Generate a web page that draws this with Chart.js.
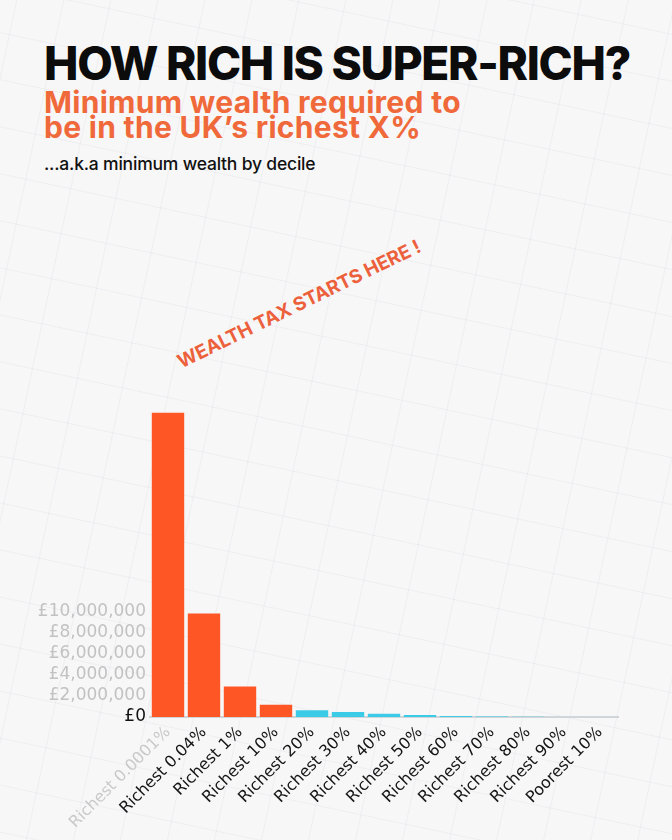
<!DOCTYPE html>
<html>
<head>
<meta charset="utf-8">
<script src="https://cdn.jsdelivr.net/npm/chart.js@4.4.1/dist/chart.umd.min.js"></script>
<style>
  html, body { margin:0; padding:0; }
  body { width:672px; height:840px; position:relative; overflow:hidden; background:#f8f7f8; font-family:Inter, "Noto Sans", sans-serif; }
  #grid { position:absolute; left:-300px; top:-300px; width:1300px; height:1500px; transform:rotate(12deg);
    background-image:
      linear-gradient(rgba(190,198,210,0.18) 1px, transparent 1px),
      linear-gradient(90deg, rgba(190,198,210,0.18) 1px, transparent 1px);
    background-size:46px 46px; }
  #title { position:absolute; left:44px; top:40px; font-size:46px; font-weight:800; letter-spacing:-1.3px; color:#0c0c0c; white-space:nowrap; line-height:1; }
  #sub { position:absolute; left:44px; top:90px; font-size:30px; font-weight:700; letter-spacing:0.3px; color:#f0693a; line-height:25px; white-space:nowrap; }
  #note { position:absolute; left:44px; top:153px; font-size:17.5px; font-weight:500; color:#111; letter-spacing:-0.2px; white-space:nowrap; }
  #tax { position:absolute; left:299px; top:304px; transform:translate(-50%,-50%) rotate(-26deg); font-size:19px; font-weight:700; color:#ec603c; white-space:nowrap; letter-spacing:-0.1px; }
  #wrap { position:absolute; left:0; top:386px; width:672px; height:454px; }
</style>
</head>
<body>
<div id="grid"></div>
<div id="title">HOW RICH IS SUPER-RICH?</div>
<div id="sub">Minimum wealth required to<br>be in the UK’s richest X%</div>
<div id="note">...a.k.a minimum wealth by decile</div>
<div id="tax">WEALTH TAX STARTS HERE !</div>
<div id="wrap"><canvas id="c"></canvas></div>
<script>
const categories = ["Richest 0.0001%","Richest 0.04%","Richest 1%","Richest 10%","Richest 20%","Richest 30%","Richest 40%","Richest 50%","Richest 60%","Richest 70%","Richest 80%","Richest 90%","Poorest 10%"];
const minWealth = [28800000, 9800000, 2900000, 1150000, 650000, 470000, 300000, 180000, 100000, 50000, 20000, 5000, 0];
const yTickValues = [0, 2000000, 4000000, 6000000, 8000000, 10000000];
const redCount = 4;

const RED = '#ff5626', CYAN = '#3ccbe6';

new Chart(document.getElementById('c'), {
  type: 'bar',
  data: {
    labels: categories,
    datasets: [{
      data: minWealth,
      backgroundColor: minWealth.map((v, i) => i < redCount ? RED : CYAN),
      borderWidth: 0,
      barPercentage: 0.9,
      categoryPercentage: 1.0
    }]
  },
  options: {
    responsive: true,
    maintainAspectRatio: false,
    animation: false,
    layout: { padding: { top: 0, right: 54, bottom: 0, left: 0 } },
    plugins: { legend: { display: false }, tooltip: { enabled: false } },
    scales: {
      x: {
        grid: { display: false },
        border: { display: true, color: '#cfd5d9', width: 2 },
        ticks: {
          autoSkip: false, minRotation: 45, maxRotation: 45, padding: -2,
          font: { family: 'DejaVu Sans', size: 16 },
          color: (ctx) => ctx.index === 0 ? '#c9c9c9' : '#141414'
        },
        afterFit: (s) => { s.height = 123; }
      },
      y: {
        min: 0, max: 30000000,
        grid: { display: false, drawTicks: false },
        border: { display: false },
        afterBuildTicks: (s) => { s.ticks = yTickValues.map(v => ({ value: v })); },
        ticks: {
          padding: 4,
          font: { family: 'DejaVu Sans', size: 17 },
          color: (ctx) => ctx.tick && ctx.tick.value === 0 ? '#111111' : '#c2c2c2',
          callback: (v) => '£' + Number(v).toLocaleString('en-GB')
        },
        afterFit: (s) => { s.width = 150; }
      }
    }
  }
});
</script>
</body>
</html>
